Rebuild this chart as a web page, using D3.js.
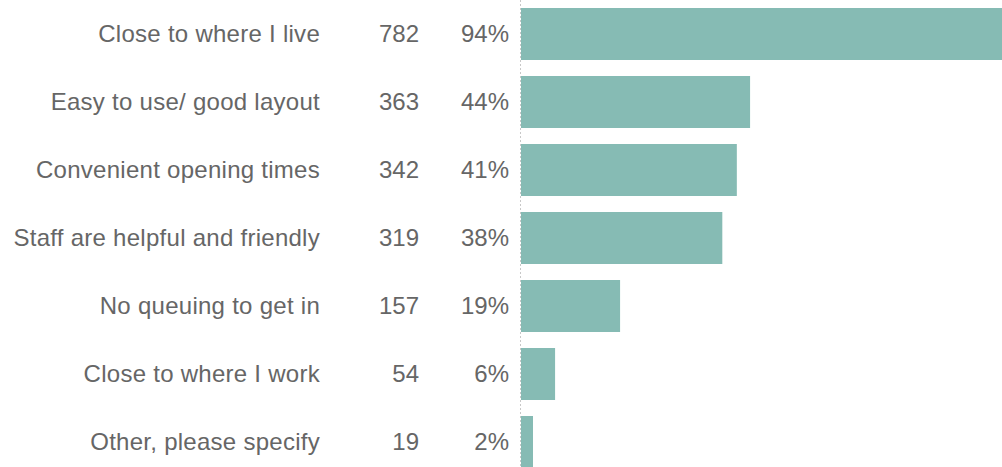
<!DOCTYPE html>
<html>
<head>
<meta charset="utf-8">
<script src="https://cdn.jsdelivr.net/npm/d3@7"></script>
<style>
  html, body { margin: 0; padding: 0; background: #fff; }
  svg { display: block; }
</style>
</head>
<body>
<svg id="chart" width="1002" height="467"></svg>
<script>
const categories = [
  "Close to where I live",
  "Easy to use/ good layout",
  "Convenient opening times",
  "Staff are helpful and friendly",
  "No queuing to get in",
  "Close to where I work",
  "Other, please specify"
];
const counts = [782, 363, 342, 319, 157, 54, 19];
const percents = ["94%", "44%", "41%", "38%", "19%", "6%", "2%"];

const data = categories.map((c, i) => ({ cat: c, count: counts[i], pct: percents[i] }));

const svg = d3.select("#chart");
const W = 1002, H = 467;

const y = d3.scaleBand()
  .domain(categories)
  .range([0, 476])
  .paddingInner(16 / 68)
  .paddingOuter(8 / 68);

const x0 = 521;
const x = d3.scaleLinear().domain([0, 782]).range([x0, x0 + 493.5]);

const textColor = "#666666";
const font = "'Liberation Sans', Arial, Helvetica, sans-serif";

svg.selectAll("rect.bar")
  .data(data)
  .join("rect")
  .attr("class", "bar")
  .attr("x", x(0))
  .attr("y", d => y(d.cat))
  .attr("width", d => x(d.count) - x(0))
  .attr("height", y.bandwidth())
  .attr("fill", "#86bbb4");

svg.append("line")
  .attr("x1", 520.5).attr("x2", 520.5)
  .attr("y1", 0).attr("y2", H)
  .attr("stroke", "#c8c8c8")
  .attr("stroke-width", 1)
  .attr("stroke-dasharray", "2,2");

const cols = [
  { key: "cat", x: 320, ls: 0.27 },
  { key: "count", x: 419, ls: 0 },
  { key: "pct", x: 509, ls: 0 }
];

cols.forEach(col => {
  svg.selectAll("text.c-" + col.key)
    .data(data)
    .join("text")
    .attr("class", "c-" + col.key)
    .attr("x", col.x)
    .attr("y", d => y(d.cat) + y.bandwidth() / 2)
    .attr("dy", "0.34em")
    .attr("text-anchor", "end")
    .attr("font-family", font)
    .attr("font-size", 24)
    .attr("letter-spacing", col.ls)
    .attr("fill", textColor)
    .text(d => d[col.key]);
});
</script>
</body>
</html>
